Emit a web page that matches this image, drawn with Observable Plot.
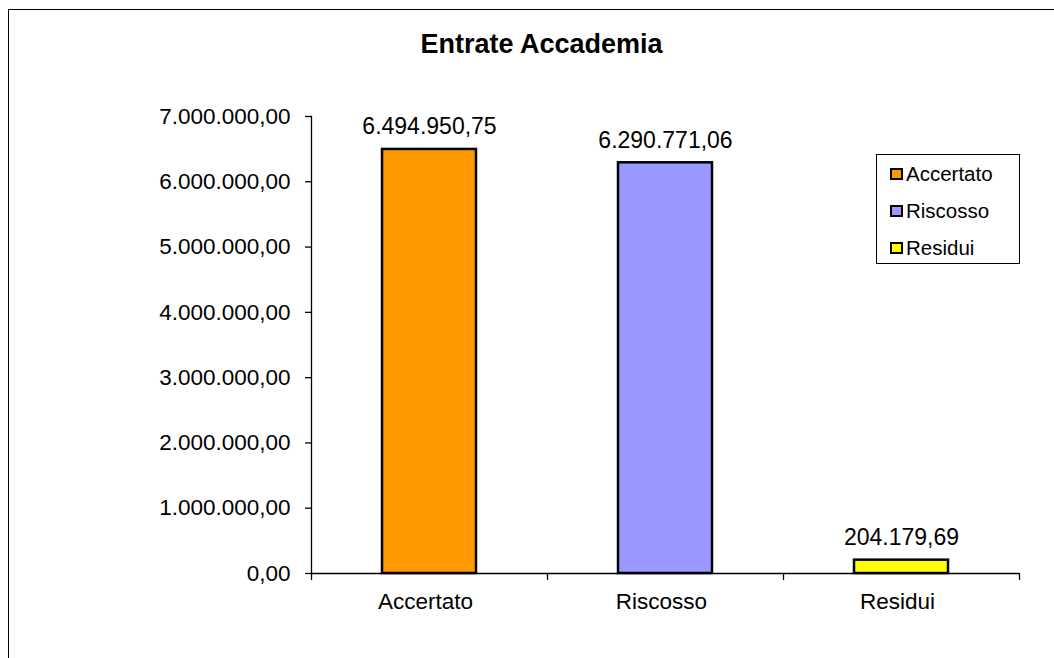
<!DOCTYPE html>
<html>
<head>
<meta charset="utf-8">
<script src="https://cdn.jsdelivr.net/npm/d3@7"></script>
<script src="https://cdn.jsdelivr.net/npm/@observablehq/plot@0.6"></script>
<style>
  html, body { margin: 0; padding: 0; background: #fff; }
  body { width: 1054px; height: 658px; overflow: hidden; position: relative; font-family: "Liberation Sans", Arial, sans-serif; }
  #border { position: absolute; left: 7.5px; top: 8.5px; width: 1200px; height: 800px; border-left: 1.5px solid #000; border-top: 1.5px solid #000; }
  #title { position: absolute; left: 0; width: 1083px; top: 30.5px; text-align: center; font-size: 27px; line-height: 1; font-weight: bold; color: #000; }
  #chart { position: absolute; left: 0; top: 0; }
  #legend { position: absolute; left: 876px; top: 154px; width: 142px; height: 108px; border: 1px solid #000; background: #fff; padding-top: 0px; box-sizing: content-box; }
  .row { height: 37px; display: flex; align-items: center; padding-left: 13px; font-size: 20.5px; color: #000; }
  .sw { width: 9px; height: 8px; border: 2px solid #000; margin-right: 3px; flex: none; }
</style>
</head>
<body>
<div id="border"></div>
<div id="chart"></div>
<div id="title">Entrate Accademia</div>
<div id="legend"></div>
<script>
const categories = ["Accertato", "Riscosso", "Residui"];
const values = [6494950.75, 6290771.06, 204179.69];
const colors = ["#FF9900", "#9999FF", "#FFFF00"];
const yTicks = [0, 1000000, 2000000, 3000000, 4000000, 5000000, 6000000, 7000000];

const it = d3.formatLocale({decimal: ",", thousands: ".", grouping: [3], currency: ["", "€"]});
const fmt = it.format(",.2f");

const data = categories.map((c, i) => ({category: c, value: values[i], color: colors[i]}));

const W = 1054, H = 658;
const mL = 311, mR = 35, mT = 116, mB = 85;
const step = (W - mL - mR) / categories.length;

const plot = Plot.plot({
  width: W,
  height: H,
  marginLeft: mL,
  marginRight: mR,
  marginTop: mT,
  marginBottom: mB,
  style: {fontFamily: '"Liberation Sans", Arial, sans-serif', color: "#000", background: "transparent"},
  x: {domain: categories, paddingInner: 0.6, paddingOuter: 0.3, label: null},
  y: {domain: [0, 7000000], label: null},
  marks: [
    Plot.barY(data, {x: "category", y: "value", fill: "color", stroke: "#000", strokeWidth: 2.5}),
    Plot.ruleY([0], {stroke: "#000", strokeWidth: 1.3}),
    Plot.frame({anchor: "left", stroke: "#000", strokeWidth: 1.3}),
    Plot.axisY({ticks: yTicks, tickFormat: fmt, tickSize: 6, tickPadding: 15, fontSize: 22.5, label: null, stroke: "#000", strokeWidth: 1.3}),
    Plot.axisX({tickSize: 0, tickPadding: 20, fontSize: 22.5, dx: -4, label: null}),
    Plot.axisX({tickSize: 7, dx: step / 2, tickFormat: () => "", label: null, stroke: "#000", strokeWidth: 1.3}),
    Plot.axisX([categories[0]], {tickSize: 7, dx: -step / 2, tickFormat: () => "", label: null, stroke: "#000", strokeWidth: 1.3}),
    Plot.text(data, {x: "category", y: "value", text: d => fmt(d.value), lineAnchor: "bottom", dy: -15, fontSize: 23, fill: "#000"})
  ]
});
document.getElementById("chart").appendChild(plot);

const legend = document.getElementById("legend");
categories.forEach((c, i) => {
  const row = document.createElement("div");
  row.className = "row";
  const sw = document.createElement("div");
  sw.className = "sw";
  sw.style.background = colors[i];
  const t = document.createElement("span");
  t.textContent = c;
  row.appendChild(sw);
  row.appendChild(t);
  legend.appendChild(row);
});
</script>
</body>
</html>
